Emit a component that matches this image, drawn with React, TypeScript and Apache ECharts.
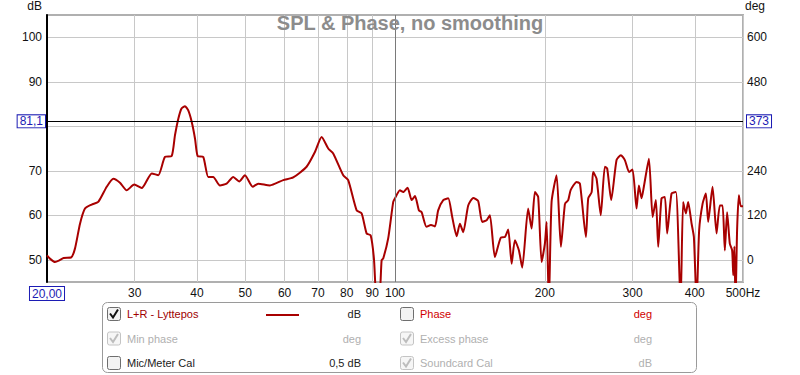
import React, { useEffect, useRef } from 'react';
import * as echarts from 'echarts';

const freqHz = [
  20.0, 20.3, 20.75, 21.2, 21.6, 22.35, 22.76, 23.3, 23.84, 24.59, 25.35, 26.36, 27.18, 28.03, 28.91,
  29.94, 30.99, 32.47, 33.46, 34.51, 35.6, 36.15, 36.71, 37.26, 37.86, 38.42, 39.05, 39.66, 40.14,
  41.2, 42.16, 43.14, 44.5, 45.9, 47.33, 48.65, 49.96, 51.77, 53.12, 56.07, 59.64, 62.45, 66.44,
  69.05, 71.22, 73.43, 75.14, 78.71, 80.54, 83.75, 85.7, 87.71, 89.34, 90.71, 91.84, 92.97, 94.0,
  94.7, 96.9, 99.18, 100.0, 102.3, 103.9, 106.0, 108.0, 109.7, 111.7, 113.1, 115.7, 118.1, 120.3,
  122.1, 125.0, 127.9, 130.3, 133.0, 135.0, 137.1, 140.3, 143.6, 146.9, 149.7, 152.8, 155.1, 158.7,
  163.2, 166.2, 168.8, 171.5, 174.1, 177.4, 180.1, 185.1, 188.1, 191.0, 193.9, 197.0, 200.0, 201.6,
  203.7, 206.3, 211.1, 215.4, 219.5, 222.8, 225.4, 231.6, 235.2, 241.8, 244.4, 248.3, 250.0, 254.0,
  259.0, 263.9, 266.8, 271.8, 278.6, 284.2, 289.5, 295.3, 300.0, 305.6, 308.9, 312.8, 316.1, 323.6,
  329.2, 334.2, 337.8, 343.0, 348.4, 352.1, 359.3, 366.6, 374.6, 379.1, 383.8, 388.0, 394.2, 398.4,
  403.4, 408.2, 414.8, 421.1, 425.6, 434.3, 442.4, 449.2, 454.9, 459.7, 464.6, 470.4, 475.5, 478.0,
  480.5, 483.0, 486.5, 490.5, 495.0, 500.0,
];
const splDb = [
  51.0, 50.2, 49.5, 49.9, 50.4, 50.5, 52.5, 58.1, 61.5, 62.4, 63.0, 66.4, 68.2, 67.3, 65.6,
  66.9, 66.1, 69.4, 69.0, 73.1, 73.3, 78.0, 81.7, 84.0, 84.5, 83.6, 81.0, 77.2, 73.3,
  73.1, 68.6, 68.6, 66.7, 67.1, 68.6, 67.6, 69.0, 66.4, 67.1, 66.7, 67.9, 68.5, 70.9,
  74.2, 77.6, 75.0, 73.9, 69.0, 67.9, 61.1, 60.4, 55.9, 55.5, 50.3, 41.0, 41.0, 49.9,
  50.3, 54.8, 63.0, 63.8, 65.6, 65.2, 66.2, 63.4, 64.3, 61.1, 60.7, 57.4, 57.8, 57.5,
  61.1, 63.4, 63.8, 59.6, 55.3, 58.1, 56.2, 62.2, 63.9, 63.2, 58.5, 58.9, 60.0, 50.6,
  55.0, 55.1, 56.8, 49.1, 54.4, 52.1, 48.2, 61.5, 57.0, 65.2, 64.1, 49.5, 53.6, 58.5,
  40.0, 63.0, 69.0, 52.9, 62.6, 63.4, 65.7, 67.5, 67.1, 55.1, 63.8, 65.2, 69.7, 68.2,
  60.0, 70.9, 70.5, 63.4, 72.4, 73.5, 72.4, 69.7, 70.3, 61.5, 66.7, 63.8, 66.4, 72.7,
  59.6, 63.4, 52.9, 63.8, 64.1, 55.9, 64.9, 65.2, 40.0, 63.0, 60.4, 63.0, 58.1, 55.1,
  40.0, 56.6, 62.6, 64.9, 58.5, 66.4, 55.9, 62.2, 62.2, 52.1, 60.7, 53.6, 52.1, 46.5,
  53.0, 40.0, 56.6, 64.5, 62.0, 62.0,
];
const xTickValues = [20, 30, 40, 50, 60, 70, 80, 90, 100, 200, 300, 400, 500];
const dbTickValues = [50, 60, 70, 80, 90, 100];
const dbLabelValues = [50, 60, 70, 90, 100];
const degTickValues = [0, 120, 240, 360, 480, 600];
const degLabelValues = [0, 120, 240, 480, 600];
const decadeLineHz = [100];
const cursorDb = 81.1;
const cursorDbLabel = '81,1';
const cursorDegLabel = '373';
const xMinLabel = '20,00';
const chartTitle = 'SPL & Phase, no smoothing';

const legendLeftNames = ['L+R - Lyttepos', 'Min phase', 'Mic/Meter Cal'];
const legendLeftUnits = ['dB', 'deg', '0,5 dB'];
const legendLeftChecked = [true, true, false];
const legendLeftEnabled = [true, false, true];
const legendRightNames = ['Phase', 'Excess phase', 'Soundcard Cal'];
const legendRightUnits = ['deg', 'deg', 'dB'];
const legendRightChecked = [false, true, true];
const legendRightEnabled = [true, false, false];

const FONT = '"Liberation Sans", Arial, sans-serif';
const LINE_RED = '#a80000';
const CURSOR_BLUE = '#1c1cb4';

function checkbox(x: number, yc: number, checked: boolean, enabled: boolean) {
  const children: any[] = [
    {
      type: 'rect',
      shape: { x: x + 0.5, y: yc - 6.5, width: 13, height: 13, r: 2 },
      style: { fill: enabled ? '#f2f2f2' : '#f6f6f6', stroke: enabled ? '#6e6e6e' : '#c4c4c4', lineWidth: 1 },
    },
  ];
  if (checked) {
    children.push({
      type: 'polyline',
      shape: { points: [[x + 3, yc - 0.5], [x + 6, yc + 3.5], [x + 11, yc - 4.5]] },
      style: { fill: null, stroke: enabled ? '#111' : '#bdbdbd', lineWidth: 2 },
    });
  }
  return children;
}

function legendText(x: number, y: number, text: string, color: string, align: string) {
  return {
    type: 'text',
    x,
    y,
    style: {
      text,
      fill: color,
      font: `11px ${FONT}`,
      align,
      verticalAlign: 'middle',
      textAlign: align,
      textVerticalAlign: 'middle',
    },
  };
}

export default function App() {
  const ref = useRef<HTMLDivElement>(null);

  useEffect(() => {
    if (!ref.current) return;
    const chart = echarts.init(ref.current, null, { renderer: 'svg' });

    const rowsY = [314, 338.5, 363];
    const legendEls: any[] = [
      {
        type: 'rect',
        shape: { x: 102.5, y: 302.5, width: 594, height: 70, r: 5 },
        style: { fill: '#fff', stroke: '#9a9a9a', lineWidth: 1 },
      },
    ];
    rowsY.forEach((yc, i) => {
      legendEls.push(...checkbox(107, yc, legendLeftChecked[i], legendLeftEnabled[i]));
      const leftColor = i === 0 ? '#a00000' : legendLeftEnabled[i] ? '#222' : '#b0b0b0';
      legendEls.push(legendText(127, yc, legendLeftNames[i], leftColor, 'left'));
      const leftUnitColor = legendLeftEnabled[i] ? '#222' : '#b0b0b0';
      legendEls.push(legendText(361, yc, legendLeftUnits[i], leftUnitColor, 'right'));
      legendEls.push(...checkbox(400, yc, legendRightChecked[i], legendRightEnabled[i]));
      const rightColor = i === 0 ? '#d00000' : '#b0b0b0';
      legendEls.push(legendText(420, yc, legendRightNames[i], rightColor, 'left'));
      legendEls.push(legendText(652, yc, legendRightUnits[i], rightColor, 'right'));
    });
    legendEls.push({
      type: 'line',
      shape: { x1: 266, y1: 315, x2: 299, y2: 315 },
      style: { stroke: LINE_RED, lineWidth: 2 },
    });

    const cursorLabelStyle = {
      color: CURSOR_BLUE,
      fontSize: 12,
      fontFamily: FONT,
      backgroundColor: '#fff',
      borderColor: CURSOR_BLUE,
      borderWidth: 1,
      padding: [0, 2, 0, 2],
    };

    chart.setOption({
      animation: false,
      backgroundColor: '#fff',
      textStyle: { fontFamily: FONT },
      grid: {
        left: 47,
        right: 57,
        top: 15,
        bottom: 93,
        show: true,
        backgroundColor: '#fff',
        borderColor: '#b0b0b0',
        borderWidth: 2,
      },
      xAxis: {
        type: 'log',
        logBase: 10,
        min: 20,
        max: 500,
        axisLine: { show: false },
        axisTick: { show: false, customValues: xTickValues },
        minorTick: { show: false },
        axisLabel: {
          customValues: xTickValues,
          margin: 5,
          color: '#111',
          fontSize: 12,
          fontFamily: FONT,
          formatter: (v: number) => {
            const r = Math.round(v);
            if (r === 20) return `{c|${xMinLabel}}`;
            if (r === 500) return '500Hz';
            return String(r);
          },
          rich: {
            c: { ...cursorLabelStyle, padding: [1, 2, 0, 2] },
          },
        },
        splitLine: { show: true, lineStyle: { color: '#c8c8c8', width: 1 } },
      },
      yAxis: [
        {
          type: 'value',
          min: 45,
          max: 105,
          position: 'left',
          axisLine: { show: true, onZero: false, lineStyle: { color: '#000', width: 2 } },
          axisTick: { show: false, customValues: dbTickValues },
          axisLabel: {
            customValues: dbLabelValues,
            margin: 5,
            color: '#111',
            fontSize: 12,
            fontFamily: FONT,
          },
          splitLine: { show: true, lineStyle: { color: '#c8c8c8', width: 1 } },
        },
        {
          type: 'value',
          min: -60,
          max: 660,
          position: 'right',
          axisLine: { show: false },
          axisTick: { show: false, customValues: degTickValues },
          axisLabel: {
            customValues: degLabelValues,
            margin: 4,
            color: '#111',
            fontSize: 12,
            fontFamily: FONT,
          },
          splitLine: { show: false },
        },
      ],
      graphic: [
        {
          type: 'text',
          x: 410,
          y: 23,
          z: 100,
          style: {
            text: chartTitle,
            fill: '#8c8c8c',
            font: `bold 20px ${FONT}`,
            align: 'center',
            verticalAlign: 'middle',
            textAlign: 'center',
            textVerticalAlign: 'middle',
          },
        },
        {
          type: 'text',
          x: 42,
          y: 6,
          style: {
            text: 'dB',
            fill: '#111',
            font: `12px ${FONT}`,
            align: 'right',
            verticalAlign: 'middle',
            textAlign: 'right',
            textVerticalAlign: 'middle',
          },
        },
        {
          type: 'text',
          x: 745,
          y: 6,
          style: {
            text: 'deg',
            fill: '#111',
            font: `12px ${FONT}`,
            align: 'left',
            verticalAlign: 'middle',
            textAlign: 'left',
            textVerticalAlign: 'middle',
          },
        },
        ...legendEls,
      ],
      series: [
        {
          type: 'line',
          name: legendLeftNames[0],
          data: freqHz.map((f, i) => [f, splDb[i]]),
          xAxisIndex: 0,
          yAxisIndex: 0,
          showSymbol: false,
          smooth: 0.2,
          clip: true,
          silent: true,
          lineStyle: { color: LINE_RED, width: 2 },
          itemStyle: { color: LINE_RED },
          markLine: {
            silent: true,
            symbol: 'none',
            animation: false,
            data: [
              ...decadeLineHz.map((hz) => ({
                xAxis: hz,
                lineStyle: { color: '#7a7a7a', width: 1, type: 'solid' },
                label: { show: false },
              })),
              {
                yAxis: cursorDb,
                lineStyle: { color: '#000', width: 1, type: 'solid' },
                label: { show: true, position: 'start', distance: 2, formatter: cursorDbLabel, ...cursorLabelStyle },
              },
              {
                yAxis: cursorDb,
                lineStyle: { color: '#000', width: 1, type: 'solid' },
                label: { show: true, position: 'end', distance: 4, formatter: cursorDegLabel, ...cursorLabelStyle },
              },
            ],
          },
        },
      ],
    });

    return () => chart.dispose();
  }, []);

  return (
    <div
      ref={ref}
      style={{ position: 'fixed', left: 0, top: 0, width: 800, height: 375, background: '#fff' }}
    />
  );
}
